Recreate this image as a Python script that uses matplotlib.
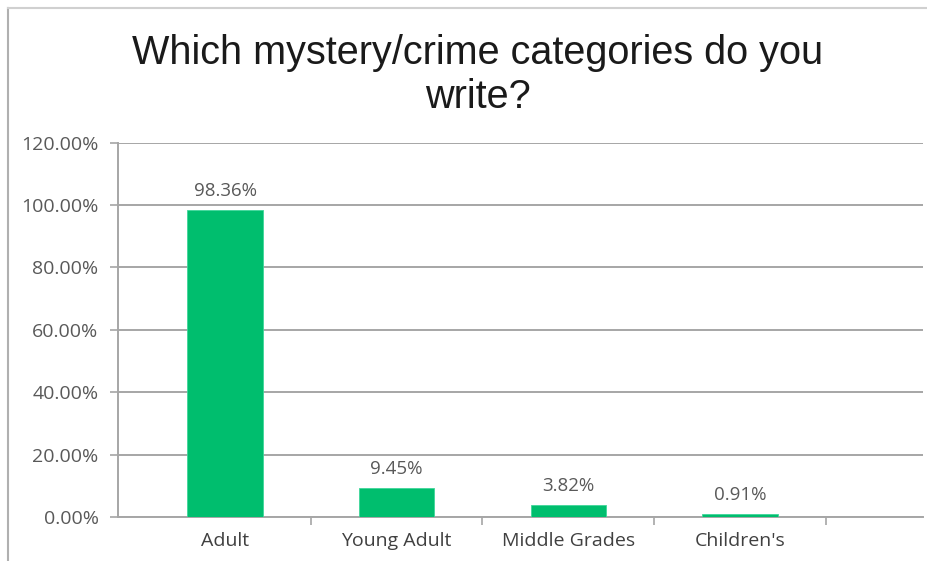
import matplotlib.pyplot as plt
from matplotlib.lines import Line2D
from matplotlib.ticker import FixedLocator

categories = ['Adult', 'Young Adult', 'Middle Grades', "Children's"]
values = [98.36, 9.45, 3.82, 0.91]
y_ticks = [0, 20, 40, 60, 80, 100, 120]
title = 'Which mystery/crime categories do you\nwrite?'

bar_color = '#00BE6E'
grid_color = '#A6A6A6'
text_color = '#595959'
label_font = 'Open Sans'

fig = plt.figure(figsize=(9.27, 5.61), dpi=100)
ax = fig.add_axes([0.1273, 0.0784, 0.8684, 0.6674])

x = list(range(len(categories)))
ax.bar(x, values, width=0.44, color=bar_color, edgecolor='#3FD69A', linewidth=0.6, zorder=3)

# value labels above each bar
for xi, v in zip(x, values):
    ax.annotate('%.2f%%' % v, (xi, v), xytext=(0, 7), textcoords='offset points',
                ha='center', va='bottom', fontsize=13.5, color=text_color, family=label_font)

ax.set_xlim(-0.624, 4.067)
ax.set_ylim(0, 120)
ax.set_yticks(y_ticks)
ax.set_yticklabels(['%.2f%%' % t for t in y_ticks], fontsize=14, color=text_color, family=label_font)
ax.yaxis.grid(True, color=grid_color, linewidth=1.4, zorder=0)

ax.set_xticks(x)
ax.set_xticklabels(categories, fontsize=14, color='#404040', family=label_font)
ax.xaxis.set_minor_locator(FixedLocator([0.5, 1.5, 2.5, 3.5]))
ax.tick_params(axis='x', which='major', length=0, pad=11)
ax.tick_params(axis='x', which='minor', length=6, color=grid_color, width=1.2)
ax.tick_params(axis='y', length=6, color=grid_color, width=1.2, pad=8)

for side in ['top', 'right']:
    ax.spines[side].set_visible(False)
for side in ['left', 'bottom']:
    ax.spines[side].set_color(grid_color)
    ax.spines[side].set_linewidth(1.4)

fig.text(0.5157, 0.939, title, ha='center', va='top', fontsize=28.5, family='Liberation Sans',
         color='#1a1a1a', linespacing=1.18)

# chart frame edges visible in the screenshot
fig.add_artist(Line2D([8 / 927, 8 / 927], [0, 1 - 8 / 561], color='#B0B0B0', linewidth=1.5))
fig.add_artist(Line2D([8 / 927, 1], [1 - 8 / 561, 1 - 8 / 561], color='#D0D0D0', linewidth=1.5))

fig.savefig('out.png', dpi=100)
